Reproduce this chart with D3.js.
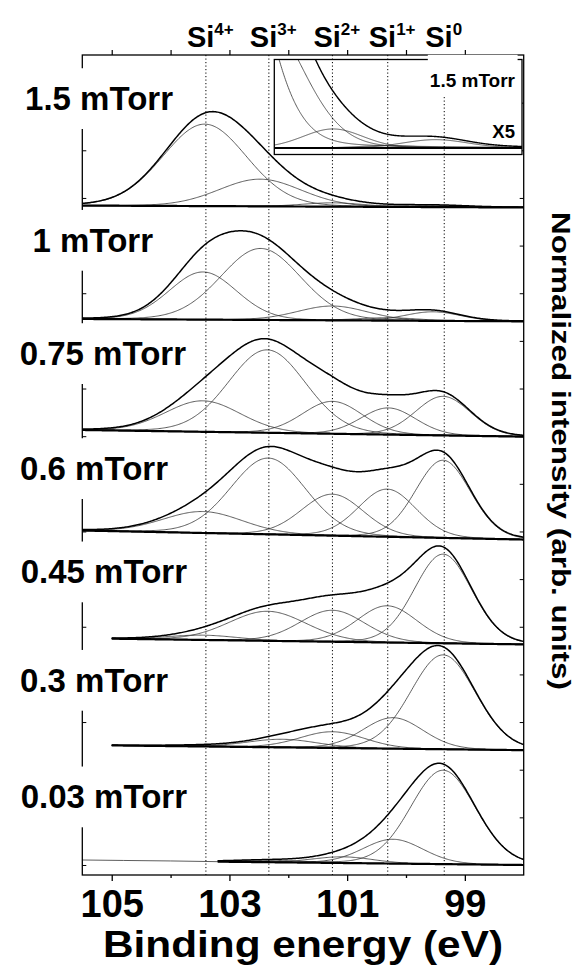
<!DOCTYPE html>
<html>
<head>
<meta charset="utf-8">
<script src="https://cdn.jsdelivr.net/npm/d3@7/dist/d3.min.js"></script>
<style>
  body { margin: 0; background: #fff; }
  svg { display: block; }
  text { font-family: "Liberation Sans", Arial, sans-serif; font-weight: bold; fill: #000; }
</style>
</head>
<body>
<div id="chart"></div>
<script>
// ---- data ----
var pressures = ["1.5 mTorr", "1 mTorr", "0.75 mTorr", "0.6 mTorr", "0.45 mTorr", "0.3 mTorr", "0.03 mTorr"];
var states = ["4+", "3+", "2+", "1+", "0"];
var stateEnergy = [103.4, 102.33, 101.25, 100.31, 99.35];   // dotted reference lines (eV)
var panelOffset = [13.8, 11.41, 8.99, 6.83, 4.63, 2.41, 0];  // vertical stacking offset
var fitStart = [105.5, 105.5, 105.5, 105.5, 105.0, 105.0, 103.2]; // eV where the fit begins
var bgLeft = [0.04, 0.05, 0.14, 0.19, 0.12, 0.10, 0.07];     // background at fit start (rel. to right end)

// fitted components, order Si4+, Si3+, Si2+, Si1+, Si0
var peakCentre = [
  [103.42, 102.48, 101.24, 100.30, 99.50],
  [103.45, 102.47, 101.25, 100.30, 99.54],
  [103.45, 102.36, 101.25, 100.30, 99.37],
  [103.45, 102.34, 101.25, 100.32, 99.37],
  [103.45, 102.35, 101.25, 100.32, 99.37],
  [103.45, 102.10, 101.25, 100.22, 99.37],
  [103.40, 102.30, 101.07, 100.22, 99.37]
];
var peakHeight = [
  [1.72, 0.57, 0.08, 0.01, 0.035],
  [1.00, 1.50, 0.30, 0.06, 0.19],
  [0.65, 1.74, 0.68, 0.56, 0.82],
  [0.45, 1.60, 0.87, 1.00, 1.63],
  [0.10, 0.62, 0.66, 0.77, 1.87],
  [0.02, 0.17, 0.34, 0.65, 1.98],
  [0.00, 0.04, 0.13, 0.51, 1.97]
];
var peakFwhm = [
  [1.68, 1.65, 1.20, 1.20, 1.30],
  [1.35, 1.60, 1.40, 1.20, 1.10],
  [1.50, 1.55, 1.20, 1.10, 1.10],
  [1.60, 1.50, 1.24, 1.15, 1.10],
  [1.40, 1.55, 1.30, 1.20, 1.15],
  [1.40, 1.40, 1.30, 1.20, 1.30],
  [1.40, 1.40, 1.20, 1.20, 1.30]
];
var lorentzFraction = 0.08;   // Gaussian-Lorentzian mix of the fit

// raw data of the 0.03 mTorr scan outside the fitted window
var rawTailEnergy = [105.5, 104.8, 104.0, 103.2];
var rawTailValue = [0.105, 0.095, 0.085, 0.07];

var xTickValues = [105, 104, 103, 102, 101, 100, 99];
var xTickLabels = ["105", "", "103", "", "101", "", "99"];
var insetGain = 5;

// ---- layout ----
var W = 579, H = 973;
var plot = { left: 82.3, right: 523.7, top: 55, bottom: 875 };

var svg = d3.select("#chart").append("svg")
    .attr("width", W)
    .attr("height", H);

var x = d3.scaleLinear().domain([105.5, 98]).range([plot.left, plot.right]);
var y = d3.scaleLinear().domain([-0.21, 17]).range([plot.bottom, plot.top]);
var unitPx = y(0) - y(1);

function profile(e, c, h, w) {
  var t = (e - c) / w;
  return h * ((1 - lorentzFraction) * Math.exp(-4 * Math.LN2 * t * t) + lorentzFraction / (1 + 4 * t * t));
}

var line = d3.line().x(function(d) { return x(d[0]); }).y(function(d) { return d[1]; });

// ---- spectra ----
pressures.forEach(function(p, i) {
  var g = svg.append("g");
  var e0 = fitStart[i];
  var grid = d3.range(e0, 97.999, -0.02);
  var bg = function(e) { return bgLeft[i] * (e - 98) / (e0 - 98); };
  var base = panelOffset[i];

  // components
  stateEnergy.forEach(function(s, k) {
    if (peakHeight[i][k] <= 0) return;
    g.append("path")
      .attr("d", line(grid.map(function(e) {
        return [e, y(base + bg(e) + profile(e, peakCentre[i][k], peakHeight[i][k], peakFwhm[i][k]))];
      })))
      .attr("fill", "none")
      .attr("stroke", "#333")
      .attr("stroke-width", 0.8);
  });

  // background
  g.append("path")
    .attr("d", line(grid.map(function(e) { return [e, y(base + bg(e))]; })))
    .attr("fill", "none")
    .attr("stroke", "#000")
    .attr("stroke-width", 2.2);

  // envelope
  g.append("path")
    .attr("d", line(grid.map(function(e) {
      var s = bg(e);
      for (var k = 0; k < 5; k++) s += profile(e, peakCentre[i][k], peakHeight[i][k], peakFwhm[i][k]);
      return [e, y(base + s)];
    })))
    .attr("fill", "none")
    .attr("stroke", "#000")
    .attr("stroke-width", 1.5);
});

svg.append("path")
  .attr("d", line(rawTailEnergy.map(function(e, j) { return [e, y(panelOffset[6] + rawTailValue[j])]; })))
  .attr("fill", "none")
  .attr("stroke", "#333")
  .attr("stroke-width", 0.8);

// ---- frame and axes ----
svg.append("rect")
  .attr("x", plot.left).attr("y", plot.top)
  .attr("width", plot.right - plot.left).attr("height", plot.bottom - plot.top)
  .attr("fill", "none").attr("stroke", "#000").attr("stroke-width", 1.3);

var bottomAxis = d3.axisBottom(x).tickValues(xTickValues)
    .tickFormat(function(d, j) { return xTickLabels[j]; })
    .tickSize(6).tickPadding(6);
var gx = svg.append("g").attr("transform", "translate(0," + plot.bottom + ")").call(bottomAxis);
gx.select(".domain").remove();
gx.selectAll(".tick line").attr("stroke-width", 1.3)
  .attr("y2", function(d, j) { return xTickLabels[j] ? 6 : 3; });
gx.selectAll(".tick text")
  .attr("font-size", 38).attr("font-family", null)
  .attr("dy", null).attr("y", 42);

var topAxis = d3.axisTop(x).tickValues(xTickValues).tickSize(5).tickFormat("");
var gt = svg.append("g").attr("transform", "translate(0," + plot.top + ")").call(topAxis);
gt.select(".domain").remove();
gt.selectAll(".tick line").attr("stroke-width", 1.2);

var yTicks = d3.range(0, 17);
var gl = svg.append("g").attr("transform", "translate(" + plot.left + ",0)")
    .call(d3.axisRight(y).tickValues(yTicks).tickSize(4).tickFormat(""));
gl.select(".domain").remove();
var gr = svg.append("g").attr("transform", "translate(" + plot.right + ",0)")
    .call(d3.axisLeft(y).tickValues(yTicks).tickSize(4).tickFormat(""));
gr.select(".domain").remove();

// ---- inset (x5 of 1.5 mTorr) ----
var inset = { left: 274.3, right: 522, top: 59.5, bottom: 154.5, base: 148 };
var yi = d3.scaleLinear().domain([0, 1]).range([inset.base, inset.base - insetGain * unitPx]);
svg.append("clipPath").attr("id", "insetClip").append("rect")
  .attr("x", inset.left).attr("y", inset.top)
  .attr("width", inset.right - inset.left).attr("height", inset.bottom - inset.top);
svg.append("rect")
  .attr("x", inset.left).attr("y", inset.top)
  .attr("width", inset.right - inset.left).attr("height", inset.bottom - inset.top)
  .attr("fill", "#fff");
var gi = svg.append("g").attr("clip-path", "url(#insetClip)");
var igrid = d3.range(102.5, 97.999, -0.01);
stateEnergy.forEach(function(s, k) {
  gi.append("path")
    .attr("d", line(igrid.map(function(e) {
      return [e, yi(profile(e, peakCentre[0][k], peakHeight[0][k], peakFwhm[0][k]))];
    })))
    .attr("fill", "none").attr("stroke", "#333").attr("stroke-width", 0.8);
});
gi.append("path")
  .attr("d", line(igrid.map(function(e) {
    var s = 0;
    for (var k = 0; k < 5; k++) s += profile(e, peakCentre[0][k], peakHeight[0][k], peakFwhm[0][k]);
    return [e, yi(s)];
  })))
  .attr("fill", "none").attr("stroke", "#000").attr("stroke-width", 1.4);
gi.append("line")
  .attr("x1", inset.left).attr("x2", inset.right)
  .attr("y1", yi(0)).attr("y2", yi(0))
  .attr("stroke", "#000").attr("stroke-width", 2.2);
svg.append("rect")
  .attr("x", inset.left).attr("y", inset.top)
  .attr("width", inset.right - inset.left).attr("height", inset.bottom - inset.top)
  .attr("fill", "none").attr("stroke", "#000").attr("stroke-width", 1.3);

// ---- dotted reference lines ----
svg.append("g").selectAll("line").data(stateEnergy).join("line")
  .attr("x1", function(d) { return x(d); }).attr("x2", function(d) { return x(d); })
  .attr("y1", plot.top).attr("y2", plot.bottom)
  .attr("stroke", "#000").attr("stroke-width", 1)
  .attr("stroke-dasharray", "1.2,2.3");

// label with white backing (hides axis / lines behind it)
function boxedText(parent, tx, ty, str, size, anchor, padTop, padBottom) {
  var gg = parent.append("g");
  var r = gg.append("rect").attr("fill", "#fff");
  var t = gg.append("text").attr("x", tx).attr("y", ty)
    .attr("font-size", size).attr("text-anchor", anchor).text(str);
  var b = t.node().getBBox();
  r.attr("x", b.x - 2).attr("width", b.width + 4)
   .attr("y", ty - size * 0.72 - padTop).attr("height", size * 0.72 + padTop + padBottom);
  return t;
}

boxedText(svg, 515, 86.5, "1.5 mTorr", 19, "end", 18, 10);
svg.append("text").attr("x", 515).attr("y", 137.5).attr("font-size", 18.5)
  .attr("text-anchor", "end").text("X5");

// panel labels
var labelRight = [173, 153, 186, 168, 187, 168, 187];
var labelBaseline = [110, 251.7, 365, 480, 583.3, 691.7, 808.3];
pressures.forEach(function(p, i) {
  boxedText(svg, labelRight[i], labelBaseline[i], p, 33, "end", 18, 19);
});

// state labels on top
var st = svg.append("g");
stateEnergy.forEach(function(e, k) {
  var t = st.append("text").attr("x", x(e) - 19).attr("y", 47).attr("font-size", 29);
  t.append("tspan").text("Si");
  t.append("tspan").attr("font-size", 17).attr("dy", -12).text(states[k]);
});

// axis titles
svg.append("text")
  .attr("x", 303).attr("y", 957)
  .attr("text-anchor", "middle").attr("font-size", 37)
  .attr("textLength", 400).attr("lengthAdjust", "spacingAndGlyphs")
  .text("Binding energy (eV)");

svg.append("text")
  .attr("transform", "translate(552,451) rotate(90)")
  .attr("text-anchor", "middle").attr("font-size", 25)
  .attr("textLength", 478).attr("lengthAdjust", "spacingAndGlyphs")
  .text("Normalized intensity (arb. units)");
</script>
</body>
</html>
